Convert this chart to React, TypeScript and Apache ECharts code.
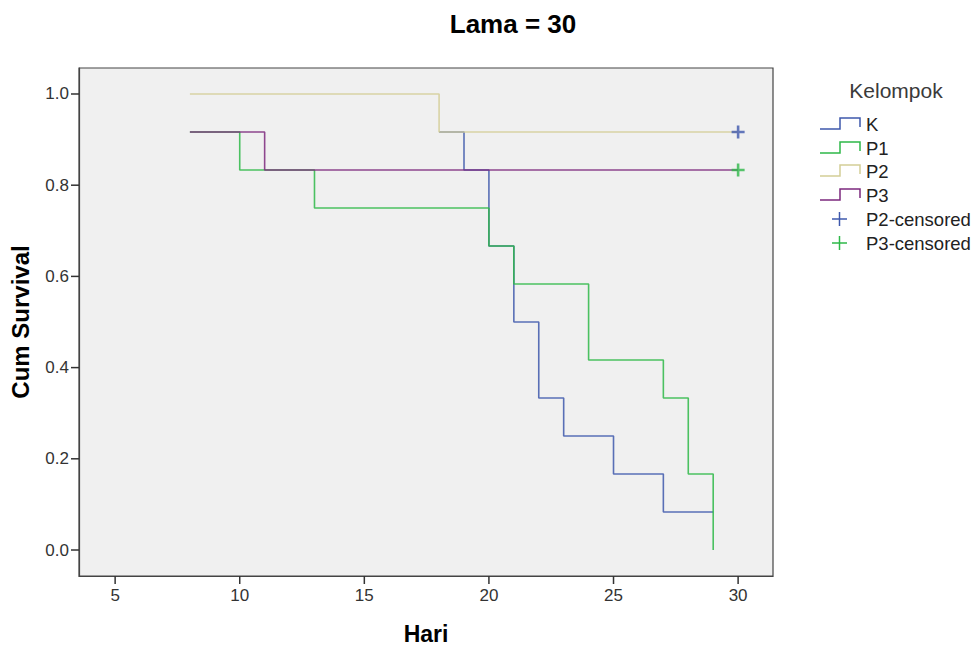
import React, { useEffect, useRef } from "react";
import * as echarts from "echarts";

const groups = ["K", "P1", "P2", "P3"];
const kTimes = [18, 19, 20, 21, 22, 23, 25, 27, 29];
const kSurv = [0.9167, 0.8333, 0.6667, 0.5, 0.3333, 0.25, 0.1667, 0.0833, 0.0833];
const p1Times = [8, 10, 13, 20, 21, 24, 27, 28, 29];
const p1Surv = [0.9167, 0.8333, 0.75, 0.6667, 0.5833, 0.4167, 0.3333, 0.1667, 0];
const p2Times = [8, 18, 30];
const p2Surv = [1.0, 0.9167, 0.9167];
const p3Times = [8, 11, 30];
const p3Surv = [0.9167, 0.8333, 0.8333];
const censoredNames = ["P2-censored", "P3-censored"];
const censoredTimes = [30, 30];
const censoredSurv = [0.9167, 0.8333];
const xTicks = [5, 10, 15, 20, 25, 30];
const yTicks = [0, 0.2, 0.4, 0.6, 0.8, 1.0];
const X_MIN = 3.55;
const X_MAX = 31.4;
const Y_MIN = -0.057;
const Y_MAX = 1.057;

const colors = ["#3E58AC", "#2EB848", "#D3CE97", "#7C287D"];
const censoredColors = ["#3E58AC", "#2EB848"];

const PLUS = "path://M4,0 H6 V4 H10 V6 H6 V10 H4 V6 H0 V4 H4 Z";
const FONT = "'Liberation Sans', Arial, sans-serif";

export default function App() {
  const ref = useRef<HTMLDivElement>(null);
  useEffect(() => {
    if (!ref.current) return;
    const chart = echarts.init(ref.current, null, { renderer: "svg" });
    const seriesTimes = [kTimes, p1Times, p2Times, p3Times];
    const seriesSurv = [kSurv, p1Surv, p2Surv, p3Surv];
    const lineSeries = groups.map((g, i) => ({
      name: g,
      type: "line",
      step: "end",
      data: seriesTimes[i].map((t, j) => [t, seriesSurv[i][j]]),
      showSymbol: false,
      symbol: "none",
      lineStyle: { color: colors[i], width: 1.6, opacity: 0.85 },
      itemStyle: { color: colors[i] },
      z: 2 + i,
    }));
    const censSeries = censoredNames.map((n, i) => ({
      name: n,
      type: "scatter",
      data: [[censoredTimes[i], censoredSurv[i]]],
      symbol: PLUS,
      symbolSize: 13,
      itemStyle: { color: censoredColors[i] },
      z: 10,
    }));

    const legendRowsY = [124, 148, 171, 195, 219, 243];
    const legendGraphics: any[] = [
      {
        type: "text",
        x: 896,
        y: 90,
        style: {
          text: "Kelompok",
          font: `21px ${FONT}`,
          fill: "#3a3a3a",
          textAlign: "center",
          textVerticalAlign: "middle",
        },
      },
    ];
    groups.forEach((g, i) => {
      const y = legendRowsY[i];
      legendGraphics.push({
        type: "polyline",
        shape: {
          points: [
            [820, y + 5],
            [840, y + 5],
            [840, y - 6],
            [860, y - 6],
            [860, y + 3],
          ],
        },
        style: { stroke: colors[i], lineWidth: 1.5, fill: "none" },
      });
      legendGraphics.push({
        type: "text",
        x: 866,
        y: y,
        style: {
          text: g,
          font: `18.5px ${FONT}`,
          fill: "#222",
          textVerticalAlign: "middle",
        },
      });
    });
    censoredNames.forEach((n, i) => {
      const y = legendRowsY[4 + i];
      legendGraphics.push({
        type: "line",
        shape: { x1: 832, y1: y, x2: 847, y2: y },
        style: { stroke: censoredColors[i], lineWidth: 1.5 },
      });
      legendGraphics.push({
        type: "line",
        shape: { x1: 839.5, y1: y - 7, x2: 839.5, y2: y + 7 },
        style: { stroke: censoredColors[i], lineWidth: 1.5 },
      });
      legendGraphics.push({
        type: "text",
        x: 866,
        y: y,
        style: {
          text: n,
          font: `18.5px ${FONT}`,
          fill: "#222",
          textVerticalAlign: "middle",
        },
      });
    });

    chart.setOption({
      animation: false,
      backgroundColor: "#ffffff",
      title: {
        text: "Lama = 30",
        left: 508,
        top: 6,
        textAlign: "center",
        textStyle: { fontFamily: FONT, fontSize: 26, fontWeight: "bold", color: "#000" },
      },
      grid: {
        left: 79,
        right: 205,
        top: 68,
        bottom: 72,
        show: true,
        backgroundColor: "#f0f0f0",
        borderColor: "#444",
        borderWidth: 1.2,
      },
      xAxis: {
        type: "value",
        min: X_MIN,
        max: X_MAX,
        splitLine: { show: false },
        axisLine: { show: true, onZero: false, lineStyle: { color: "#444", width: 1.2 } },
        axisTick: { show: false },
        axisLabel: {
          customValues: xTicks,
          fontFamily: FONT,
          fontSize: 17,
          color: "#333",
          margin: 11,
        },
        name: "Hari",
        nameLocation: "middle",
        nameGap: 46,
        nameTextStyle: { fontFamily: FONT, fontSize: 23, fontWeight: "bold", color: "#000" },
      },
      yAxis: {
        type: "value",
        min: Y_MIN,
        max: Y_MAX,
        splitLine: { show: false },
        axisLine: { show: true, onZero: false, lineStyle: { color: "#444", width: 1.2 } },
        axisTick: { show: false },
        axisLabel: {
          customValues: yTicks,
          fontFamily: FONT,
          fontSize: 17,
          color: "#333",
          margin: 10,
          formatter: (v: number) => v.toFixed(1),
        },
        name: "Cum Survival",
        nameLocation: "middle",
        nameGap: 47,
        nameTextStyle: { fontFamily: FONT, fontSize: 24, fontWeight: "bold", color: "#000" },
      },
      graphic: legendGraphics,
      series: [...lineSeries, ...censSeries],
    });

    // Tick marks positioned through the chart's own scales
    const tickGraphics: any[] = [];
    xTicks.forEach((v) => {
      const p = chart.convertToPixel({ gridIndex: 0 }, [v, Y_MIN]) as number[];
      if (p) {
        tickGraphics.push({
          type: "rect",
          z: 100,
          shape: { x: p[0] - 0.75, y: p[1], width: 1.5, height: 8 },
          style: { fill: "#333" },
        });
      }
    });
    yTicks.forEach((v) => {
      const p = chart.convertToPixel({ gridIndex: 0 }, [X_MIN, v]) as number[];
      if (p) {
        tickGraphics.push({
          type: "rect",
          z: 100,
          shape: { x: p[0] - 8, y: p[1] - 0.75, width: 8, height: 1.5 },
          style: { fill: "#333" },
        });
      }
    });
    chart.setOption({ graphic: { elements: [...legendGraphics, ...tickGraphics] } });

    return () => chart.dispose();
  }, []);
  return (
    <div
      ref={ref}
      style={{ position: "fixed", left: 0, top: 0, width: 978, height: 650 }}
    />
  );
}
